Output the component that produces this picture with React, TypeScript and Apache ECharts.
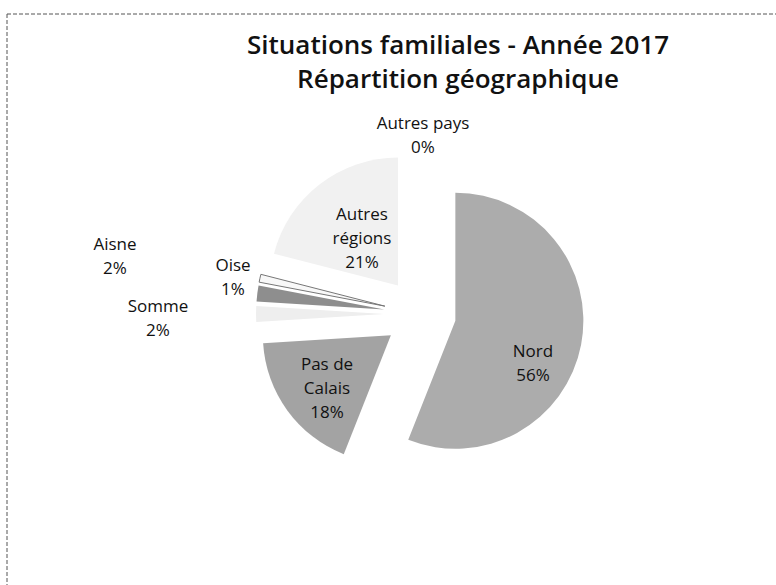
import React, { useEffect, useRef } from "react";
import * as echarts from "echarts";

const categories = ["Nord", "Pas de Calais", "Somme", "Aisne", "Oise", "Autres régions", "Autres pays"];
const displayNames = ["Nord", "Pas de\nCalais", "Somme", "Aisne", "Oise", "Autres\nrégions", "Autres pays"];
const values = [56, 18, 2, 2, 1, 21, 0];
const titleLines = ["Situations familiales - Année 2017", "Répartition géographique"];

const sliceColors = ["#acacac", "#a3a3a3", "#eeeeee", "#8e8e8e", "#f8f8f8", "#f1f1f1", "#dddddd"];
// label centres (layout only)
const labelPos: [number, number][] = [
  [533, 362],
  [327, 387],
  [158, 317],
  [115, 255],
  [233, 276],
  [362, 237],
  [423, 134],
];

export default function App() {
  const ref = useRef<HTMLDivElement>(null);
  useEffect(() => {
    if (!ref.current) return;
    const chart = echarts.init(ref.current, undefined, { renderer: "svg" });
    const font = "'Open Sans', Lato, sans-serif";
    const total = values.reduce((a, b) => a + b, 0);
    const labelTexts = values.map(
      (v, i) => `${displayNames[i]}\n${Math.round((v / total) * 100)}%`
    );
    chart.setOption({
      animation: false,
      backgroundColor: "#ffffff",
      title: {
        text: titleLines.join("\n"),
        left: 453,
        top: 22,
        textAlign: "center",
        textStyle: {
          fontFamily: font,
          fontSize: 26,
          fontWeight: 600,
          color: "#111111",
          lineHeight: 34,
        },
      },
      graphic: [
        {
          type: "line",
          shape: { x1: 7, y1: 14, x2: 776, y2: 14 },
          style: { stroke: "#555", lineWidth: 1, lineDash: [4, 2] },
          silent: true,
        },
        {
          type: "line",
          shape: { x1: 7, y1: 14, x2: 7, y2: 585 },
          style: { stroke: "#555", lineWidth: 1, lineDash: [4, 2] },
          silent: true,
        },
        ...labelTexts.map((t, i) => ({
          type: "text",
          x: labelPos[i][0],
          y: labelPos[i][1],
          silent: true,
          z: 100,
          style: {
            text: t,
            fontFamily: font,
            fontSize: 17,
            fill: "#111111",
            lineHeight: 24,
            align: "center",
            verticalAlign: "middle",
          },
        })),
      ],
      series: [
        {
          type: "pie",
          center: [420, 314],
          radius: 128,
          startAngle: 90,
          clockwise: true,
          selectedMode: "multiple",
          selectedOffset: 36,
          emphasis: { disabled: true },
          label: { show: false },
          labelLine: { show: false },
          data: categories.map((c, i) => ({
            name: c,
            value: values[i],
            selected: true,
            itemStyle: {
              color: sliceColors[i],
              borderColor: i === 4 ? "#777777" : sliceColors[i],
              borderWidth: i === 4 ? 1 : 0,
            },
          })),
        },
      ],
    });
    return () => chart.dispose();
  }, []);
  return (
    <div
      ref={ref}
      style={{ position: "fixed", left: 0, top: 0, width: 776, height: 585 }}
    />
  );
}
